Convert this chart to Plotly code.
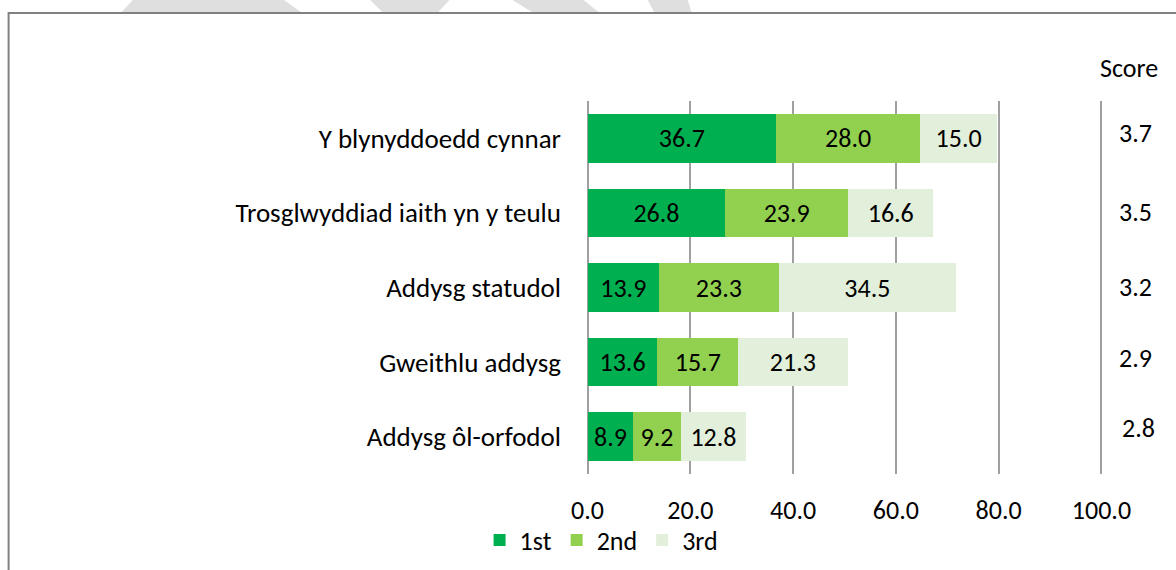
import plotly.graph_objects as go

categories = ["Y blynyddoedd cynnar", "Trosglwyddiad iaith yn y teulu", "Addysg statudol",
              "Gweithlu addysg", "Addysg ôl-orfodol"]
first = [36.7, 26.8, 13.9, 13.6, 8.9]
second = [28.0, 23.9, 23.3, 15.7, 9.2]
third = [15.0, 16.6, 34.5, 21.3, 12.8]
scores = ["3.7", "3.5", "3.2", "2.9", "2.8"]
series_names = ["1st", "2nd", "3rd"]
colors = ["#00B050", "#92D050", "#E2EFDA"]
tick_vals = [0, 20, 40, 60, 80, 100]

FONT = "Carlito, Lato"
FS = 26
W, H = 1176, 570
X0PX, X100PX = 588, 1101          # pixel positions of 0 and 100
PAD = 0.5                         # small range padding so edge gridlines are drawn
K = (X100PX - X0PX) / 100.0
L = X0PX - PAD * K
R = X100PX + PAD * K
T, B = 101, 474

def px(x):
    return (x - L) / (R - L)

def py(y):
    return (B - y) / (B - T)

fig = go.Figure()
for name, vals, col in zip(series_names, [first, second, third], colors):
    fig.add_trace(go.Bar(
        y=categories, x=vals, name=name, orientation="h",
        marker=dict(color=col, line=dict(width=0)),
        text=[f"{v:.1f}" for v in vals], textposition="inside",
        insidetextanchor="middle", textangle=0,
        textfont=dict(color="black", size=FS, family=FONT),
        width=0.65,
    ))

score_x = [1135, 1135, 1135, 1135, 1138]
score_y = [133, 212, 287, 358, 428]
for s, sx, sy in zip(scores, score_x, score_y):
    fig.add_annotation(x=px(sx), xref="paper", y=py(sy), yref="paper", text=s, showarrow=False,
                       xanchor="center", yanchor="middle",
                       font=dict(size=FS, color="black", family=FONT))
fig.add_annotation(x=px(1129), y=py(68), xref="paper", yref="paper", text="Score",
                   showarrow=False, xanchor="center", yanchor="middle",
                   font=dict(size=FS, color="black", family=FONT))

shapes = []
# watermark fragments at the top
polys = [
    [(134, 0), (285, 0), (303, 13), (122, 13)],
    [(371, 0), (450, 0), (438, 13), (384, 13)],
    [(513, 0), (584, 0), (600, 13), (534, 13)],
    [(648, 0), (688, 0), (692, 13), (655, 13)],
]
for poly in polys:
    path = "M " + " L ".join(f"{px(x):.5f} {py(y):.5f}" for x, y in poly) + " Z"
    shapes.append(dict(type="path", xref="paper", yref="paper", path=path,
                       fillcolor="#DFDFDF", line=dict(width=0), layer="below"))
# border frame
shapes.append(dict(type="rect", xref="paper", yref="paper",
                   x0=px(10), x1=px(1190), y0=py(13), y1=py(590),
                   line=dict(color="#808080", width=2), fillcolor="rgba(0,0,0,0)", layer="above"))

fig.update_layout(
    width=W, height=H,
    margin=dict(l=L, r=W - R, t=T, b=H - B, autoexpand=False),
    barmode="stack", bargap=0.35,
    paper_bgcolor="white", plot_bgcolor="white",
    font=dict(family=FONT, size=FS, color="black"),
    showlegend=True,
    legend=dict(orientation="h", x=px(602), y=py(540), xanchor="center", yanchor="middle",
                font=dict(size=FS, family=FONT), traceorder="normal",
                bgcolor="rgba(0,0,0,0)", itemwidth=30, tracegroupgap=0),
    shapes=shapes,
    uniformtext=dict(mode=False),
)
fig.update_xaxes(range=[-PAD, 100 + PAD], tickvals=tick_vals, tickformat=".1f",
                 showgrid=True, gridcolor="#A0A0A0", gridwidth=2,
                 zeroline=False, showline=False, ticks="",
                 ticklabelstandoff=18, tickfont=dict(size=FS, family=FONT))
fig.update_yaxes(autorange="reversed", showgrid=False, showline=False, ticks="",
                 ticklabelstandoff=23, tickfont=dict(size=27, family=FONT))

fig.write_html("out.html", config={"displayModeBar": False},
               post_script="document.body.style.margin='0';document.body.style.overflow='hidden';")
